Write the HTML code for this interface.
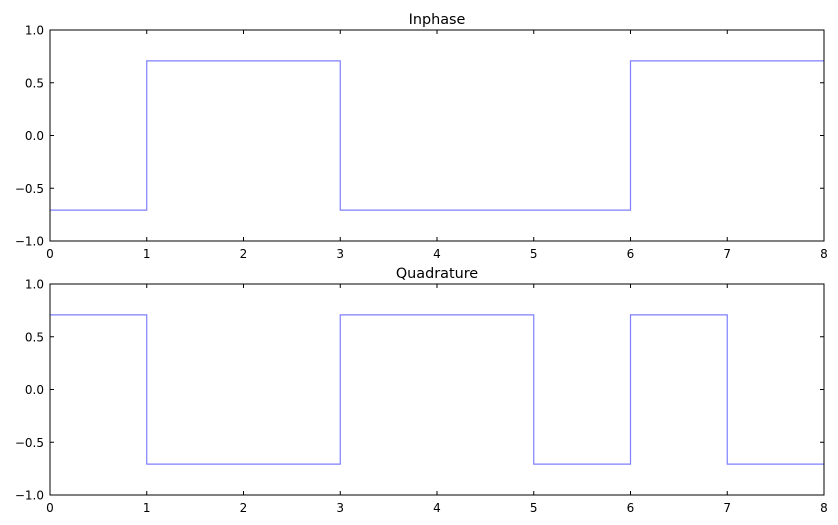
<!DOCTYPE html>
<html><head><meta charset="utf-8"><style>
body{margin:0;background:#fff;}
svg{display:block;font-family:"DejaVu Sans","Liberation Sans",sans-serif;}
</style></head><body>
<svg id="chart" width="838" height="525"></svg>
<script>
const xTicks=[0,1,2,3,4,5,6,7,8];
const yTicks=[1.0,0.5,0.0,-0.5,-1.0];
const yTickLabels=["1.0","0.5","0.0","−0.5","−1.0"];
const inphaseX=[0,1,2,3,4,5,6,7,8];
const inphaseY=[-0.707,0.707,0.707,-0.707,-0.707,-0.707,0.707,0.707];
const quadX=[0,1,2,3,4,5,6,7,8];
const quadY=[0.707,-0.707,-0.707,0.707,0.707,-0.707,0.707,-0.707];
const panels=[{title:"Inphase",top:30,bottom:241,xs:inphaseX,ys:inphaseY,name:"inphase"},
{title:"Quadrature",top:284,bottom:495,xs:quadX,ys:quadY,name:"quadrature"}];
const svg=document.getElementById('chart');
const NS='http://www.w3.org/2000/svg';
const L=50,R=824;
function mk(t,a){const e=document.createElementNS(NS,t);for(const k in a)e.setAttribute(k,a[k]);return e;}
panels.forEach(p=>{
 const g=mk('g',{});
 
 
 svg.appendChild(g);
 const sx=v=>L+(v-0)/(8-0)*(R-L);
 const sy=v=>p.bottom-(v+1)/2*(p.bottom-p.top);
 let d='';
 for(let i=0;i<p.ys.length;i++){
  const x0=sx(p.xs[i]),x1=sx(p.xs[i+1]),y=sy(p.ys[i]);
  d+=(i===0?'M':'L')+x0+','+y+'L'+x1+','+y;
 }
 const path=mk('path',{d:d,fill:'none',stroke:'#7f7fff','stroke-width':1.2});
 
 
 g.appendChild(path);
 const frame=mk('rect',{x:L,y:p.top,width:R-L,height:p.bottom-p.top,fill:'none',stroke:'#000','stroke-width':1});
 
 
 g.appendChild(frame);
 xTicks.forEach(v=>{
  const x=sx(v);
  g.appendChild(mk('line',{x1:x,x2:x,y1:p.bottom,y2:p.bottom-4,stroke:'#000'}));
  g.appendChild(mk('line',{x1:x,x2:x,y1:p.top,y2:p.top+4,stroke:'#000'}));
  const t=mk('text',{x:x,y:p.bottom+17,'text-anchor':'middle','font-size':12});
  t.textContent=v;
  
  
  g.appendChild(t);
 });
 yTicks.forEach((v,i)=>{
  const y=sy(v);
  g.appendChild(mk('line',{x1:L,x2:L+4,y1:y,y2:y,stroke:'#000'}));
  g.appendChild(mk('line',{x1:R,x2:R-4,y1:y,y2:y,stroke:'#000'}));
  const t=mk('text',{x:L-6,y:y+4.5,'text-anchor':'end','font-size':12});
  t.textContent=yTickLabels[i];
  
  
  g.appendChild(t);
 });
 const tt=mk('text',{x:(L+R)/2,y:p.top-6,'text-anchor':'middle','font-size':14.4});
 tt.textContent=p.title;
 
 
 g.appendChild(tt);
});
</script>
</body></html>
